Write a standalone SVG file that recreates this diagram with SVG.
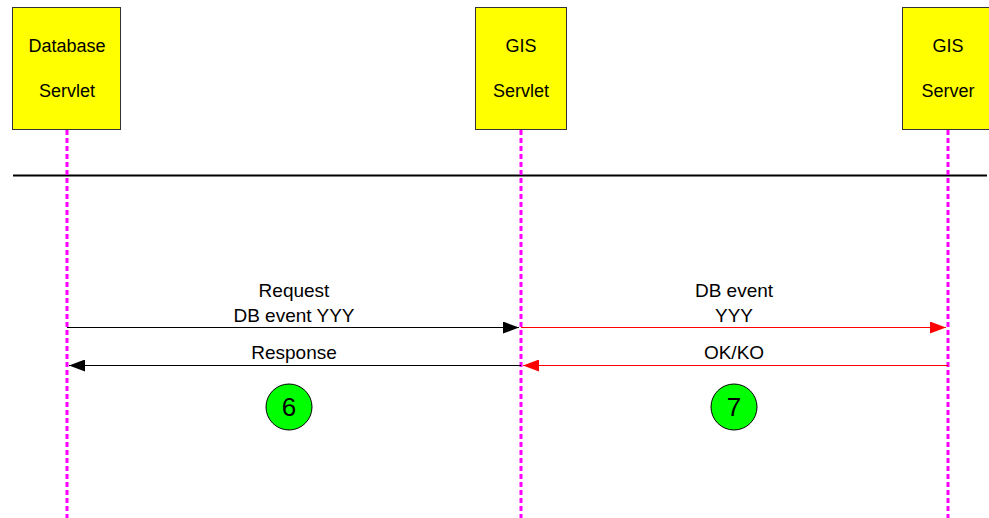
<svg xmlns="http://www.w3.org/2000/svg" width="989" height="518" viewBox="0 0 989 518">
  <defs>
    <style>
      .box { fill: #ffff00; stroke: #333333; stroke-width: 1; }
      .life { stroke: #ff00ff; stroke-width: 3; stroke-dasharray: 5 3; fill: none; }
      .lbl { font-family: "Liberation Sans", Arial, sans-serif; font-size: 19px; fill: #000; text-anchor: middle; }
      .name { font-family: "Liberation Sans", Arial, sans-serif; font-size: 18px; fill: #000; text-anchor: middle; }
      .blk { stroke: #000; stroke-width: 1; fill: none; }
      .red { stroke: #ff0000; stroke-width: 1; fill: none; }
      .step { fill: #00ff00; stroke: #000; stroke-width: 1; }
      .num { font-family: "Liberation Sans", Arial, sans-serif; font-size: 26px; fill: #000; text-anchor: middle; }
    </style>
    <marker id="ahBlack" markerWidth="16" markerHeight="12" refX="16" refY="6" orient="auto" markerUnits="userSpaceOnUse">
      <path d="M0,0 L16,6 L0,12 Z" fill="#000"/>
    </marker>
    <marker id="ahRed" markerWidth="16" markerHeight="12" refX="16" refY="6" orient="auto" markerUnits="userSpaceOnUse">
      <path d="M0,0 L16,6 L0,12 Z" fill="#ff0000"/>
    </marker>
  </defs>

  <rect width="989" height="518" fill="#ffffff"/>

  <!-- separator -->
  <line x1="13" y1="175.5" x2="987" y2="175.5" stroke="#000" stroke-width="2"/>

  <!-- lifelines -->
  <g id="lifelines">
    <line class="life" x1="67" y1="130" x2="67" y2="518"/>
    <line class="life" x1="521" y1="130" x2="521" y2="518"/>
    <line class="life" x1="948" y1="130" x2="948" y2="518"/>
  </g>

  <g id="db-servlet">
    <rect class="box" x="12.5" y="7.5" width="108" height="122"/>
    <text class="name" x="67" y="52">Database</text>
    <text class="name" x="67" y="97">Servlet</text>
  </g>

  <g id="gis-servlet">
    <rect class="box" x="475.5" y="7.5" width="91" height="122"/>
    <text class="name" x="521" y="52">GIS</text>
    <text class="name" x="521" y="97">Servlet</text>
  </g>

  <g id="gis-server">
    <rect class="box" x="902.5" y="7.5" width="92" height="122"/>
    <text class="name" x="948" y="52">GIS</text>
    <text class="name" x="948" y="97">Server</text>
  </g>

  <g id="connectors">
    <line class="blk" x1="67" y1="327.5" x2="519" y2="327.5" marker-end="url(#ahBlack)"/>
    <line class="red" x1="521" y1="327.5" x2="946" y2="327.5" marker-end="url(#ahRed)"/>
    <line class="blk" x1="521" y1="365.5" x2="69" y2="365.5" marker-end="url(#ahBlack)"/>
    <line class="red" x1="948" y1="365.5" x2="523" y2="365.5" marker-end="url(#ahRed)"/>
  </g>

  <g id="labels">
    <text class="lbl" x="294" y="297">Request</text>
    <text class="lbl" x="294" y="322">DB event YYY</text>
    <text class="lbl" x="294" y="359">Response</text>
    <text class="lbl" x="734" y="297">DB event</text>
    <text class="lbl" x="734" y="322">YYY</text>
    <text class="lbl" x="734" y="359">OK/KO</text>
  </g>

  <g id="step-6">
    <circle class="step" cx="289" cy="407" r="23"/>
    <text class="num" x="289" y="416">6</text>
  </g>
  <g id="step-7">
    <circle class="step" cx="734" cy="407" r="23"/>
    <text class="num" x="734" y="416">7</text>
  </g>
</svg>
